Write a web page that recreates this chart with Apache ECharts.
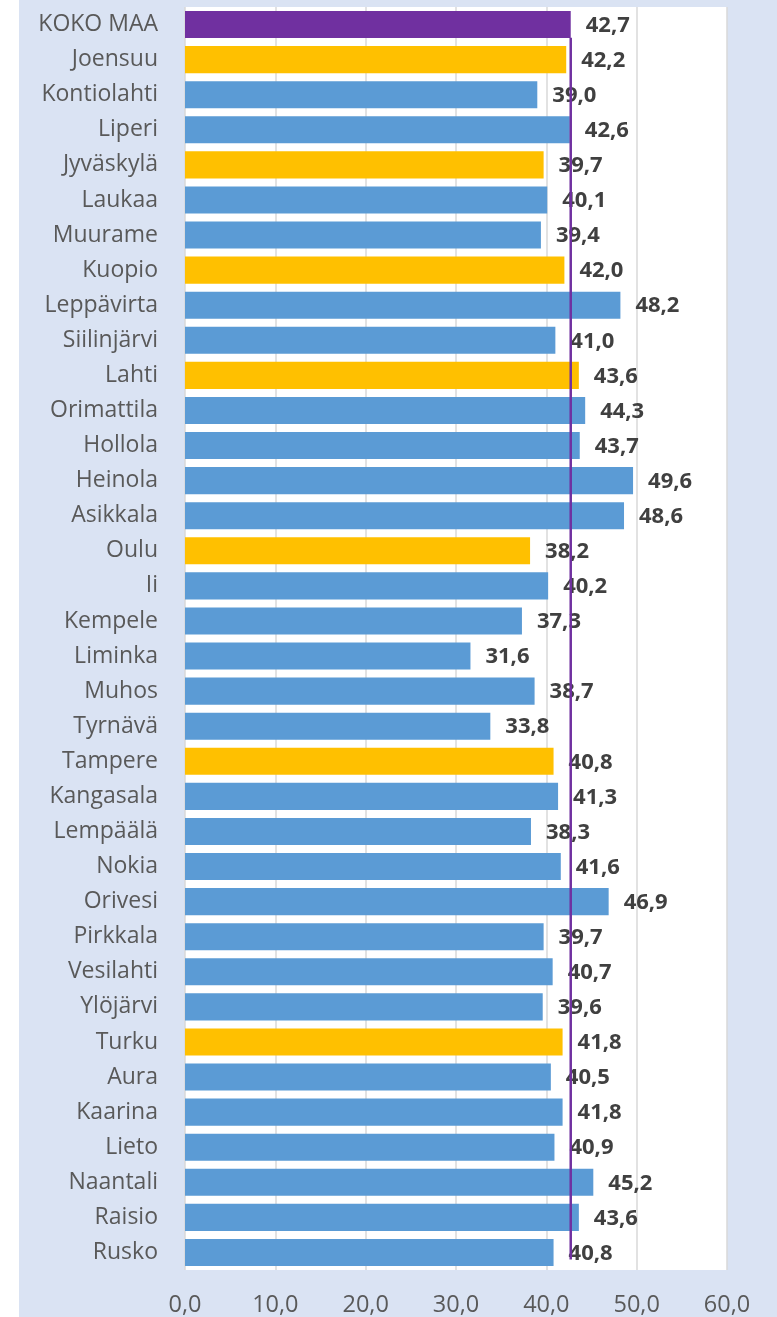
<!DOCTYPE html>
<html><head><meta charset="utf-8">
<script src="https://cdn.jsdelivr.net/npm/echarts@6/dist/echarts.min.js"></script>
<style>html,body{margin:0;padding:0;background:#fff}#c{width:777px;height:1317px}</style>
</head><body><div id="c"></div>
<script>
const categories = ['KOKO MAA','Joensuu','Kontiolahti','Liperi','Jyväskylä','Laukaa','Muurame','Kuopio','Leppävirta','Siilinjärvi','Lahti','Orimattila','Hollola','Heinola','Asikkala','Oulu','Ii','Kempele','Liminka','Muhos','Tyrnävä','Tampere','Kangasala','Lempäälä','Nokia','Orivesi','Pirkkala','Vesilahti','Ylöjärvi','Turku','Aura','Kaarina','Lieto','Naantali','Raisio','Rusko'];
const values = [42.7,42.2,39.0,42.6,39.7,40.1,39.4,42.0,48.2,41.0,43.6,44.3,43.7,49.6,48.6,38.2,40.2,37.3,31.6,38.7,33.8,40.8,41.3,38.3,41.6,46.9,39.7,40.7,39.6,41.8,40.5,41.8,40.9,45.2,43.6,40.8];
const nationalName = 'KOKO MAA';
const regionCentres = ['Joensuu','Jyväskylä','Kuopio','Lahti','Oulu','Tampere','Turku'];
const nationalValue = 42.7;
const refLineSpan = [0.88, 35.7];
const xTicks = [0,10,20,30,40,50,60];

const fmt = v => v.toFixed(1).replace('.', ',');
const colorFor = name => name === nationalName ? '#7030a0' : (regionCentres.includes(name) ? '#ffc000' : '#5b9bd5');

const chart = echarts.init(document.getElementById('c'));
chart.setOption({
  backgroundColor: '#dae3f3',
  animation: false,
  graphic: [{type:'rect', left:0, top:0, shape:{width:19, height:1317}, style:{fill:'#ffffff'}, silent:true}],
  grid: {left:185, right:50, top:7, bottom:46, show:true, backgroundColor:'#ffffff', borderWidth:0},
  xAxis: {
    type:'value', min:xTicks[0], max:xTicks[xTicks.length-1], interval:10,
    axisLine:{show:false}, axisTick:{show:false},
    splitLine:{show:true, lineStyle:{color:'#d9d9d9', width:1.5}},
    axisLabel:{formatter: v => fmt(v), color:'#595959', fontSize:23.5, fontFamily:'Open Sans', margin:23}
  },
  yAxis: [{
    type:'category', data:categories, inverse:true,
    axisLine:{show:false}, axisTick:{show:false},
    axisLabel:{color:'#595959', fontSize:23, fontFamily:'Open Sans', margin:27}
  },{
    type:'value', min:0, max:36, inverse:true, show:false
  }],
  series: [{
    type:'bar', yAxisIndex:0, barCategoryGap:'23%',
    data: values.map((v,i)=>({value:v, itemStyle:{color:colorFor(categories[i])}})),
    label:{show:true, position:'right', distance:15, offset:[0,1], formatter: p => fmt(p.value),
      color:'#404040', fontSize:22, fontWeight:'bold', fontFamily:'Open Sans'},
    z:2
  },{
    type:'line', yAxisIndex:1, symbol:'none',
    data: refLineSpan.map(y => [nationalValue, y]),
    lineStyle:{color:'#7030a0', width:2.5}, z:3
  }]
});
</script></body></html>
